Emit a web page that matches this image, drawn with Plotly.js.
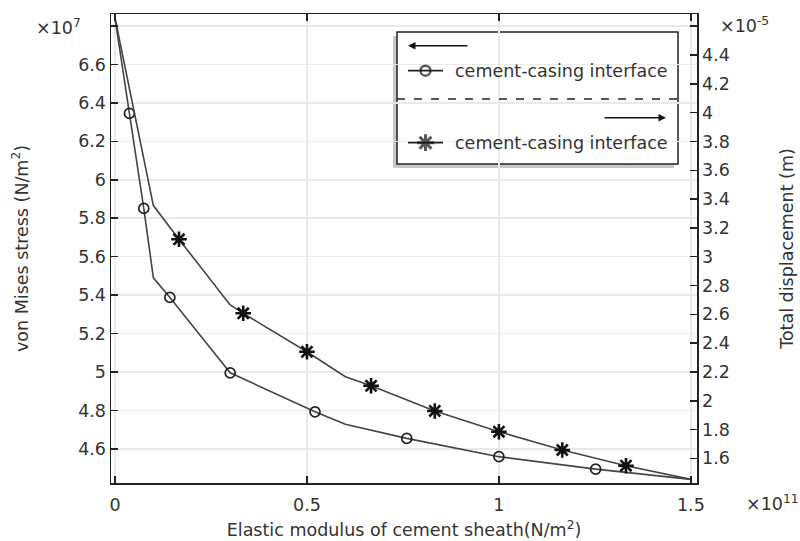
<!DOCTYPE html>
<html>
<head>
<meta charset="utf-8">
<script src="https://cdn.plot.ly/plotly-3.0.1.min.js"></script>
<style>html,body{margin:0;padding:0;background:#fff;}#chart{width:800px;height:541px;}</style>
</head>
<body>
<div id="chart"></div>
<script>
// Elastic modulus of cement sheath (x 1e11 N/m^2)
const modulusVertices = [0, 0.1, 0.3, 0.6, 1.0, 1.5];
// von Mises stress at the cement-casing interface (x 1e7 N/m^2)
const stressVertices = [6.84, 5.49, 4.996, 4.728, 4.56, 4.442];
// Total displacement at the cement-casing interface (x 1e-5 m)
const dispVertices = [4.657, 3.355, 2.665, 2.167, 1.785, 1.454];

// marker positions along the curves
const stressMarkX = [0.0375, 0.075, 0.143, 0.3, 0.521, 0.76, 1.0, 1.252];
const stressMarkY = [6.345, 5.851, 5.388, 4.996, 4.793, 4.655, 4.56, 4.495];
const dispMarkX = [0.1667, 0.334, 0.5, 0.667, 0.833, 1.0, 1.165, 1.331];
const dispMarkY = [3.121, 2.607, 2.34, 2.104, 1.929, 1.785, 1.658, 1.549];

// tick labels
const xTickVals = [0, 0.5, 1, 1.5];
const xTickText = ['0', '0.5', '1', '1.5'];
const yTickVals = [4.6, 4.8, 5.0, 5.2, 5.4, 5.6, 5.8, 6.0, 6.2, 6.4, 6.6, 6.8];
const yTickText = ['4.6', '4.8', '5', '5.2', '5.4', '5.6', '5.8', '6', '6.2', '6.4', '6.6', ''];
const y2TickVals = [1.6, 1.8, 2.0, 2.2, 2.4, 2.6, 2.8, 3.0, 3.2, 3.4, 3.6, 3.8, 4.0, 4.2, 4.4, 4.6];
const y2TickText = ['1.6', '1.8', '2', '2.2', '2.4', '2.6', '2.8', '3', '3.2', '3.4', '3.6', '3.8', '4', '4.2', '4.4', ''];

const seriesName = 'cement-casing interface';

function merge(vx, vy, mx, my) {
  const pts = [];
  vx.forEach((x, i) => pts.push([x, vy[i]]));
  mx.forEach((x, i) => { if (!vx.some(v => Math.abs(v - x) < 1e-9)) pts.push([x, my[i]]); });
  pts.sort((a, b) => a[0] - b[0]);
  return { x: pts.map(p => p[0]), y: pts.map(p => p[1]) };
}

const s = merge(modulusVertices, stressVertices, stressMarkX, stressMarkY);
const d = merge(modulusVertices, dispVertices, dispMarkX, dispMarkY);

const lineColor = '#444';
const txt = '#333';
const FONT = 'DejaVu Sans, sans-serif';
const FS = 17.5;

// legend geometry (pixel in plot area -> fraction)
const L = 111, T = 14, W = 586, H = 469;
const fx = px => (px - L) / W;
const fy = py => (T + H - py) / H;

const circleMarker = { symbol: 'circle-open', size: 10, color: '#222', line: { width: 1.7, color: '#222' } };
const starMarker = { symbol: 'asterisk-open', size: 13, color: '#111', line: { width: 2.6, color: '#111' } };

const traces = [
  { x: s.x, y: s.y, mode: 'lines', line: { color: lineColor, width: 1.6 }, xaxis: 'x', yaxis: 'y', hoverinfo: 'skip', showlegend: false },
  { x: stressMarkX, y: stressMarkY, mode: 'markers', name: seriesName, xaxis: 'x', yaxis: 'y',
    marker: circleMarker, showlegend: false },
  { x: d.x, y: d.y, mode: 'lines', line: { color: lineColor, width: 1.6 }, xaxis: 'x', yaxis: 'y2', hoverinfo: 'skip', showlegend: false },
  { x: dispMarkX, y: dispMarkY, mode: 'markers', name: seriesName, xaxis: 'x', yaxis: 'y2',
    marker: starMarker, showlegend: false },
  // legend glyphs
  { x: [fx(408), fx(425.5), fx(443)], y: [fy(70.7), fy(70.7), fy(70.7)], mode: 'lines+markers', xaxis: 'x3', yaxis: 'y3',
    line: { color: '#222', width: 1.8 }, marker: { symbol: 'circle-open', size: [0, 10, 0], color: '#111', line: { width: 2.4, color: '#111' } },
    showlegend: false, hoverinfo: 'skip' },
  { x: [fx(408), fx(425.5), fx(443)], y: [fy(142.7), fy(142.7), fy(142.7)], mode: 'lines+markers', xaxis: 'x3', yaxis: 'y3',
    line: { color: '#222', width: 1.8 }, marker: { symbol: 'asterisk-open', size: [0, 14, 0], color: '#111', line: { width: 3, color: '#111' } },
    showlegend: false, hoverinfo: 'skip' }
];

const axCommon = {
  ticks: 'inside', ticklen: 7, tickwidth: 1.5, tickcolor: '#222',
  showline: true, linecolor: '#222', linewidth: 1.5,
  zeroline: false, tickfont: { family: FONT, size: FS, color: txt }
};

const layout = {
  width: 800, height: 541,
  margin: { l: L, r: 800 - L - W, t: T, b: 541 - T - H },
  paper_bgcolor: '#fff', plot_bgcolor: '#fff',
  font: { family: FONT, size: FS, color: txt },
  showlegend: false,
  xaxis: Object.assign({}, axCommon, {
    range: [-0.0104, 1.516], tickmode: 'array', tickvals: xTickVals, ticktext: xTickText,
    mirror: 'ticks', showgrid: true, gridcolor: '#e9e9e9', gridwidth: 1.5,
    ticklabelstandoff: 5,
    title: { text: 'Elastic modulus of cement sheath(N/m<sup>2</sup>)', font: { family: FONT, size: FS, color: txt }, standoff: 10 }
  }),
  yaxis: Object.assign({}, axCommon, {
    range: [4.423, 6.862], tickmode: 'array', tickvals: yTickVals, ticktext: yTickText,
    mirror: false, showgrid: true, gridcolor: '#e9e9e9', gridwidth: 1.5,
    title: { text: 'von Mises stress (N/m<sup>2</sup>)', font: { family: FONT, size: FS, color: txt }, standoff: 45 }
  }),
  yaxis2: Object.assign({}, axCommon, {
    overlaying: 'y', side: 'right', anchor: 'x',
    range: [1.429, 4.685], tickmode: 'array', tickvals: y2TickVals, ticktext: y2TickText,
    showgrid: false,
    title: { text: 'Total displacement (m)', font: { family: FONT, size: FS, color: txt }, standoff: 52 }
  }),
  xaxis3: { overlaying: 'x', range: [0, 1], visible: false, fixedrange: true, anchor: 'y3' },
  yaxis3: { overlaying: 'y', range: [0, 1], visible: false, fixedrange: true, anchor: 'x3' },
  shapes: [
    { type: 'rect', xref: 'paper', yref: 'paper', x0: fx(393), x1: fx(674), y0: fy(168), y1: fy(36),
      fillcolor: '#c8c8c8', line: { width: 0 }, layer: 'between' },
    { type: 'rect', xref: 'paper', yref: 'paper', x0: fx(397), x1: fx(678), y0: fy(164), y1: fy(32),
      fillcolor: '#fff', line: { width: 1.5, color: '#222' }, layer: 'between' },
    { type: 'line', xref: 'paper', yref: 'paper', x0: fx(397), x1: fx(678), y0: fy(99), y1: fy(99),
      line: { width: 1.5, color: '#222', dash: '8px,9px' }, layer: 'above' }
  ],
  annotations: [
    { xref: 'paper', yref: 'paper', x: fx(408), y: fy(45.7), ax: 61, ay: 0, axref: 'pixel', ayref: 'pixel',
      text: '', showarrow: true, arrowhead: 2, arrowsize: 1, arrowwidth: 1.5, arrowcolor: '#111' },
    { xref: 'paper', yref: 'paper', x: fx(666), y: fy(117.7), ax: -63, ay: 0, axref: 'pixel', ayref: 'pixel',
      text: '', showarrow: true, arrowhead: 2, arrowsize: 1, arrowwidth: 1.5, arrowcolor: '#111' },
    { xref: 'paper', yref: 'paper', x: fx(452.7), y: fy(70.7), xanchor: 'left', yanchor: 'middle',
      text: seriesName, showarrow: false, font: { family: FONT, size: FS, color: txt } },
    { xref: 'paper', yref: 'paper', x: fx(452.7), y: fy(142.7), xanchor: 'left', yanchor: 'middle',
      text: seriesName, showarrow: false, font: { family: FONT, size: FS, color: txt } },
    { xref: 'paper', yref: 'paper', x: fx(58), y: fy(27), xanchor: 'center', yanchor: 'middle',
      text: '×10<sup>7</sup>', showarrow: false, font: { family: FONT, size: FS, color: txt } },
    { xref: 'paper', yref: 'paper', x: fx(744), y: fy(25), xanchor: 'center', yanchor: 'middle',
      text: '×10<sup>-5</sup>', showarrow: false, font: { family: FONT, size: FS, color: txt } },
    { xref: 'paper', yref: 'paper', x: fx(772), y: fy(503), xanchor: 'center', yanchor: 'middle',
      text: '×10<sup>11</sup>', showarrow: false, font: { family: FONT, size: FS, color: txt } }
  ]
};

Plotly.newPlot('chart', traces, layout, { staticPlot: true, displayModeBar: false });
</script>
</body>
</html>
